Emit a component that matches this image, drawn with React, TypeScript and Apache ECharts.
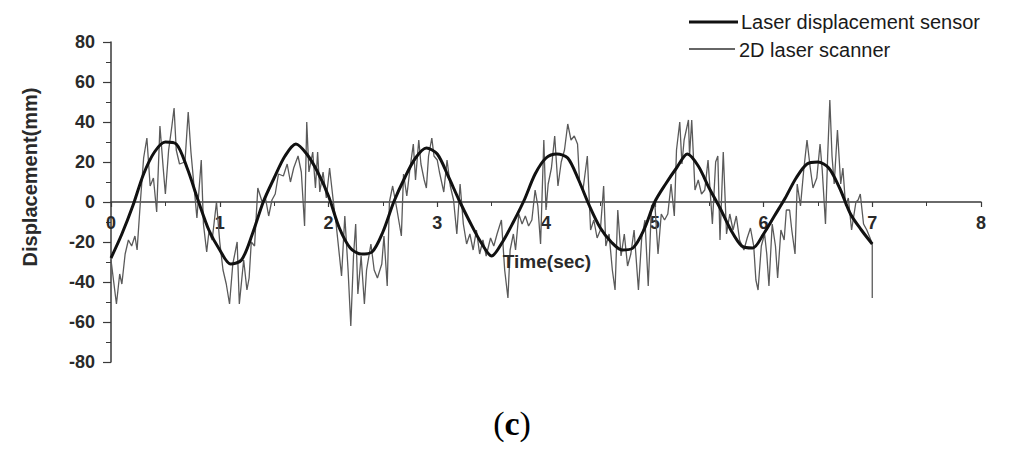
import React, { useEffect, useRef } from "react";
import * as echarts from "echarts";

// Laser displacement sensor (smooth reference), sampled every 0.1 s
const sensorTime = [
  0.0, 0.1, 0.2, 0.3, 0.4, 0.5, 0.6, 0.7, 0.8, 0.9,
  1.0, 1.1, 1.2, 1.3, 1.4, 1.5, 1.6, 1.7, 1.8, 1.9,
  2.0, 2.1, 2.2, 2.3, 2.4, 2.5, 2.6, 2.7, 2.8, 2.9,
  3.0, 3.1, 3.2, 3.3, 3.4, 3.5, 3.6, 3.7, 3.8, 3.9,
  4.0, 4.1, 4.2, 4.3, 4.4, 4.5, 4.6, 4.7, 4.8, 4.9,
  5.0, 5.1, 5.2, 5.3, 5.4, 5.5, 5.6, 5.7, 5.8, 5.9,
  6.0, 6.1, 6.2, 6.3, 6.4, 6.5, 6.6, 6.7, 6.8, 6.9,
  7.0,
];
const sensorDisp = [
  -28, -16, -2, 14, 25, 30, 29, 17, 1, -14,
  -24, -31, -29, -16, 0, 12, 23, 29, 24, 15,
  3, -13, -23, -26, -25, -15, 0, 12, 22, 27,
  24, 13, 1, -10, -20, -27, -20, -10, 1, 14,
  22, 24, 22, 11, -2, -13, -20, -24, -23, -14,
  0, 9, 17, 24, 18, 7, -3, -14, -22, -23,
  -16, -7, 2, 12, 19, 20, 17, 7, -6, -14,
  -21,
];

// 2D laser scanner (noisy)
const scannerTime = [
  0.0, 0.05, 0.08, 0.1, 0.13, 0.16, 0.19, 0.22, 0.24, 0.27,
  0.3, 0.33, 0.36, 0.39, 0.42, 0.45, 0.48, 0.5, 0.53, 0.56,
  0.58, 0.6, 0.63, 0.68, 0.71, 0.735, 0.76, 0.79, 0.83, 0.85,
  0.88, 0.9, 0.93, 0.97, 1.0, 1.03, 1.06, 1.09, 1.12, 1.16,
  1.18, 1.22, 1.25, 1.27, 1.29, 1.32, 1.35, 1.39, 1.42, 1.45,
  1.48, 1.51, 1.54, 1.585, 1.62, 1.65, 1.68, 1.72, 1.75, 1.78,
  1.8, 1.82, 1.855, 1.88, 1.9, 1.92, 1.95, 1.98, 2.01, 2.045,
  2.07, 2.12, 2.15, 2.18, 2.205, 2.23, 2.25, 2.27, 2.3, 2.33,
  2.35, 2.39, 2.42, 2.45, 2.49, 2.51, 2.54, 2.56, 2.59, 2.63,
  2.67, 2.69, 2.72, 2.75, 2.78, 2.8, 2.83, 2.85, 2.88, 2.9,
  2.92, 2.95, 2.97, 3.0, 3.02, 3.06, 3.09, 3.12, 3.15, 3.18,
  3.21, 3.24, 3.27, 3.3, 3.33, 3.36, 3.39, 3.42, 3.45, 3.49,
  3.52, 3.55, 3.59, 3.62, 3.65, 3.67, 3.7, 3.72, 3.75, 3.78,
  3.81, 3.84, 3.87, 3.9, 3.925, 3.95, 3.98, 4.0, 4.02, 4.05,
  4.08, 4.11, 4.14, 4.17, 4.2, 4.23, 4.26, 4.29, 4.31, 4.34,
  4.38, 4.41, 4.44, 4.47, 4.5, 4.53, 4.55, 4.58, 4.61, 4.635,
  4.66, 4.69, 4.72, 4.75, 4.78, 4.81, 4.85, 4.88, 4.91, 4.94,
  4.97, 5.0, 5.03, 5.06, 5.09, 5.12, 5.15, 5.18, 5.2, 5.23,
  5.25, 5.27, 5.31, 5.32, 5.34, 5.37, 5.4, 5.43, 5.46, 5.49,
  5.53, 5.56, 5.58, 5.6, 5.63, 5.66, 5.69, 5.72, 5.75, 5.78,
  5.82, 5.85, 5.88, 5.91, 5.93, 5.95, 5.98, 6.01, 6.03, 6.05,
  6.08, 6.11, 6.13, 6.16, 6.19, 6.21, 6.24, 6.26, 6.29, 6.31,
  6.34, 6.37, 6.4, 6.43, 6.455, 6.49, 6.52, 6.54, 6.57, 6.59,
  6.61, 6.63, 6.65, 6.68, 6.71, 6.73, 6.755, 6.78, 6.81, 6.85,
  6.87, 6.89, 6.92, 6.95, 6.98, 7.0, 7.0,
];
const scannerDisp = [
  -29, -51, -36, -41, -26, -19, -22, -17, -24, 0,
  22, 32, 8, 12, -5, 38, 17, 4, 26, 38,
  47, 26, 19, 20, 45, 25, 10, -8, 21, -11,
  -25, -15, -19, 0, -20, -34, -41, -51, -31, -20,
  -51, -29, -44, -38, -20, -22, 7, 0, 2, -7,
  1, 4, 14, 13, 19, 10, 17, 23, 15, -12,
  40, 15, 25, 7, 25, 5, 15, 2, 17, 0,
  -11, -37, -7, -34, -62, -27, -11, -46, -27, -51,
  -34, -21, -34, -38, -31, -17, -42, 0, 8, -4,
  -17, 14, 3, 17, 29, 11, 31, 19, 11, 7,
  23, 32, 23, 21, 15, 5, 21, 8, 1, -16,
  9, -11, -21, -16, -24, -14, -26, -19, -27, -18,
  -22, -16, -9, -34, -48, -24, -16, -24, -6, -11,
  -7, -12, -9, 6, -2, -21, 31, -4, 9, 17,
  33, 8, 20, 26, 39, 31, 33, 29, 9, 6,
  23, -14, -9, -18, -14, 8, -22, -16, -34, -44,
  -4, -27, -16, -32, -26, -14, -44, -18, -9, -42,
  -2, 0, -26, -6, -9, -6, 9, -7, 26, 40,
  19, 31, 41, 23, 41, 6, 11, 4, 6, 21,
  -11, 20, 23, -19, 25, -16, -6, -14, -7, -19,
  -24, -18, -13, -22, -39, -44, -22, -16, -26, -42,
  -11, -22, -38, -14, -19, -4, -4, -14, -26, 9,
  -2, 16, 31, 17, 7, 12, 29, 16, -11, 23,
  51, 23, 9, 36, 9, 17, -2, 2, -14, 0,
  1, 4, -11, -14, -18, -21, -48,
];

const xTicks = [0, 1, 2, 3, 4, 5, 6, 7, 8];
const yTicks = [-80, -60, -40, -20, 0, 20, 40, 60, 80];
const legendNames = ["Laser displacement sensor", "2D laser scanner"];
const xTitle = "Time(sec)";
const yTitle = "Displacement(mm)";

export default function App() {
  const ref = useRef<HTMLDivElement>(null);

  useEffect(() => {
    if (!ref.current) return;
    const chart = echarts.init(ref.current, undefined, { renderer: "svg" });

    const sensorData = sensorTime.map((t, i) => [t, sensorDisp[i]]);
    const scannerData = scannerTime.map((t, i) => [t, scannerDisp[i]]);

    const labelStyle = {
      fontFamily: "Liberation Sans, Arial, sans-serif",
      fontWeight: "bold" as const,
      fontSize: 18,
      color: "#2a2a2a",
    };

    const gridTop = 42;
    const gridBottom = 88;
    const gridHeight = 450 - gridTop - gridBottom;

    chart.setOption({
      animation: false,
      backgroundColor: "#ffffff",
      grid: { left: 111, right: 43, top: gridTop, bottom: gridBottom, containLabel: false },
      xAxis: {
        type: "value",
        position: "bottom",
        offset: -gridHeight / 2,
        min: xTicks[0],
        max: xTicks[xTicks.length - 1],
        interval: 1,
        axisLine: { onZero: false, lineStyle: { color: "#3a3a3a", width: 1.5 } },
        axisTick: { show: true, inside: false, length: 5, lineStyle: { color: "#3a3a3a", width: 1.2 } },
        minorTick: { show: true, splitNumber: 2, length: 4, lineStyle: { color: "#3a3a3a", width: 1 } },
        splitLine: { show: false },
        axisLabel: { ...labelStyle, margin: 12 },
        z: 1,
      },
      yAxis: {
        type: "value",
        min: yTicks[0],
        max: yTicks[yTicks.length - 1],
        interval: 20,
        axisLine: { show: true, onZero: false, lineStyle: { color: "#3a3a3a", width: 1.5 } },
        axisTick: { show: true, inside: false, length: 8, lineStyle: { color: "#3a3a3a", width: 1.2 } },
        minorTick: { show: true, splitNumber: 2, length: 5, lineStyle: { color: "#3a3a3a", width: 1 } },
        splitLine: { show: false },
        axisLabel: { ...labelStyle, margin: 16 },
      },
      series: [
        {
          name: legendNames[1],
          type: "line",
          data: scannerData,
          showSymbol: false,
          symbol: "none",
          lineStyle: { color: "#5a5a5a", width: 1.3 },
          z: 2,
        },
        {
          name: legendNames[0],
          type: "line",
          data: sensorData,
          showSymbol: false,
          symbol: "none",
          smooth: 0.3,
          lineStyle: { color: "#111111", width: 3 },
          z: 3,
        },
      ],
      graphic: [
        {
          type: "line",
          shape: { x1: 689, y1: 22, x2: 738, y2: 22 },
          style: { stroke: "#111111", lineWidth: 3 },
        },
        {
          type: "text",
          x: 741,
          y: 22,
          style: {
            text: legendNames[0],
            fontFamily: "Liberation Sans, Arial, sans-serif",
            fontSize: 20,
            fill: "#1a1a1a",
            align: "left",
            verticalAlign: "middle",
          },
        },
        {
          type: "line",
          shape: { x1: 689, y1: 49, x2: 735, y2: 49 },
          style: { stroke: "#333333", lineWidth: 1.5 },
        },
        {
          type: "text",
          x: 739,
          y: 50,
          style: {
            text: legendNames[1],
            fontFamily: "Liberation Sans, Arial, sans-serif",
            fontSize: 20,
            fill: "#1a1a1a",
            align: "left",
            verticalAlign: "middle",
          },
        },
        {
          type: "text",
          x: 30,
          y: 177,
          rotation: Math.PI / 2,
          style: {
            text: yTitle,
            fontFamily: "Liberation Sans, Arial, sans-serif",
            fontWeight: "bold",
            fontSize: 20,
            fill: "#2a2a2a",
            align: "center",
            verticalAlign: "middle",
          },
        },
        {
          type: "text",
          x: 547,
          y: 261,
          z: 10,
          style: {
            text: xTitle,
            fontFamily: "Liberation Sans, Arial, sans-serif",
            fontWeight: "bold",
            fontSize: 19,
            fill: "#2a2a2a",
            align: "center",
            verticalAlign: "middle",
          },
        },
        {
          type: "text",
          x: 512,
          y: 423,
          style: {
            text: "{p|(}{c|c}{p|)}",
            align: "center",
            verticalAlign: "middle",
            rich: {
              p: { fontFamily: "Liberation Serif, Times New Roman, serif", fontSize: 34, fill: "#000" },
              c: { fontFamily: "Liberation Serif, Times New Roman, serif", fontSize: 34, fontWeight: "bold", fill: "#000" },
            },
          },
        },
      ],
    });

    return () => chart.dispose();
  }, []);

  return (
    <div
      ref={ref}
      style={{ position: "fixed", left: 0, top: 0, width: 1024, height: 450, background: "#fff" }}
    />
  );
}
